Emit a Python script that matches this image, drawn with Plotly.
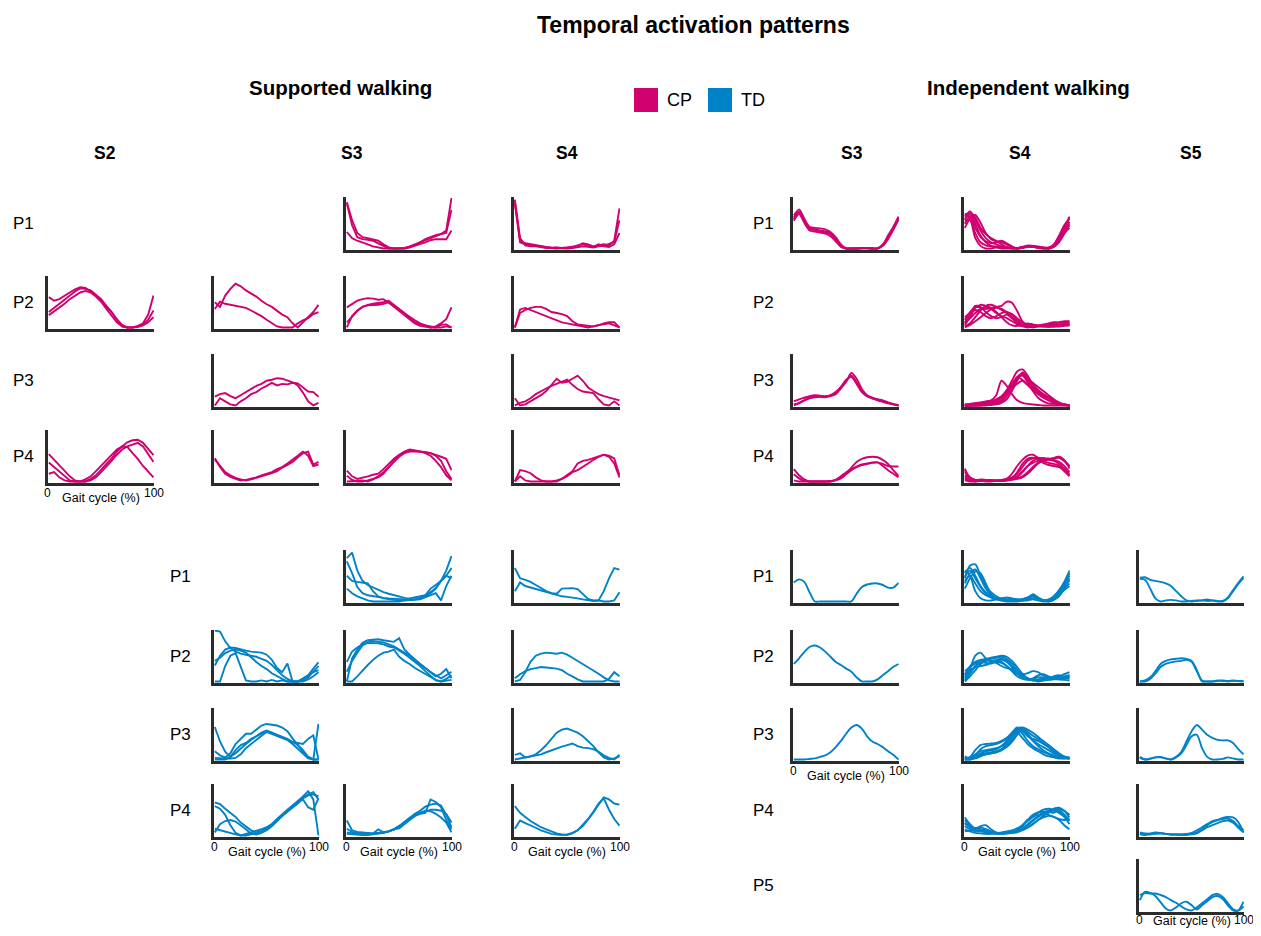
import plotly.graph_objects as go

W, H = 1261, 936          # browser window (reference pixel space)
PAGE_MARGIN = 8           # default body margin of the page
FW, FH = W - 2 * PAGE_MARGIN, H - 2 * PAGE_MARGIN
CP_COLOR = '#D0006F'
TD_COLOR = '#0082C8'
AXIS_COLOR = '#2b2b2b'
FONT = 'Liberation Sans, Arial, sans-serif'

# Gait cycle grid (%) shared by every curve
GAIT = [0, 5, 10, 15, 20, 25, 30, 35, 40, 45, 50, 55, 60, 65, 70, 75, 80, 85, 90, 95, 100]

# ---------------- CP, supported walking ----------------
CP_SUP_S2_P2 = [
    [.59, .52, .55, .62, .68, .74, .78, .77, .70, .62, .52, .42, .30, .16, .05, 0, 0, .03, .08, .25, .62],
    [.30, .38, .45, .54, .62, .70, .76, .75, .72, .64, .55, .42, .30, .15, .02, 0, 0, .02, .05, .15, .33],
    [.24, .31, .38, .46, .55, .62, .68, .71, .68, .60, .50, .36, .22, .10, .02, 0, 0, .01, .04, .10, .20],
]
CP_SUP_S2_P4 = [
    [.53, .42, .30, .20, .10, .02, 0, 0, .05, .12, .22, .34, .45, .58, .68, .76, .80, .81, .75, .62, .51],
    [.37, .28, .20, .10, .02, 0, 0, .04, .10, .20, .30, .42, .52, .62, .68, .67, .55, .44, .30, .18, .08],
    [.15, .18, .08, .02, 0, 0, 0, 0, .02, .08, .18, .28, .40, .52, .62, .68, .72, .75, .68, .52, .38],
]
CP_SUP_S3A_P2 = [
    [.49, .40, .62, .75, .85, .80, .72, .66, .60, .52, .45, .40, .33, .25, .20, .08, 0, .10, .22, .30, .44],
    [.36, .50, .46, .44, .42, .41, .38, .33, .28, .22, .15, .08, .02, 0, 0, 0, .08, .14, .18, .26, .30],
]
CP_SUP_S3A_P3 = [
    [.17, .22, .24, .18, .14, .20, .26, .32, .38, .42, .48, .50, .53, .52, .49, .45, .39, .25, .08, 0, .05],
    [0, .14, .08, .02, 0, .08, .14, .22, .26, .33, .38, .44, .39, .42, .41, .44, .43, .35, .27, .26, .17],
]
CP_SUP_S3A_P4 = [
    [.43, .30, .18, .12, .07, .04, .02, .04, .07, .10, .12, .16, .20, .27, .32, .38, .47, .55, .58, .33, .38],
    [.45, .28, .15, .09, .05, .02, .03, .05, .08, .12, .15, .18, .24, .28, .35, .42, .50, .58, .50, .30, .33],
]
CP_SUP_S3_P1 = [
    [.90, .55, .30, .22, .20, .18, .15, .08, .02, 0, 0, 0, .02, .06, .12, .18, .22, .26, .28, .35, .98],
    [.88, .45, .22, .18, .17, .15, .10, .05, 0, 0, 0, .01, .04, .08, .12, .16, .20, .25, .28, .30, .75],
    [.32, .20, .15, .12, .08, .04, .02, 0, 0, 0, 0, 0, .02, .05, .08, .12, .16, .18, .18, .18, .35],
]
CP_SUP_S3_P2 = [
    [.39, .46, .52, .55, .57, .56, .54, .55, .48, .42, .34, .28, .20, .14, .08, .04, 0, .02, .08, .16, .39],
    [0, .22, .33, .40, .43, .43, .44, .46, .49, .40, .32, .24, .16, .08, .03, .01, 0, 0, .05, .06, 0],
    [.10, .22, .32, .40, .44, .46, .47, .49, .52, .44, .36, .28, .18, .10, .06, .04, .02, 0, 0, .02, 0],
]
CP_SUP_S3_P4 = [
    [.21, .10, .05, .07, .10, .13, .15, .24, .35, .44, .52, .58, .62, .60, .58, .57, .55, .50, .40, .20, .05],
    [.11, .03, 0, 0, .02, .05, .08, .15, .28, .40, .50, .57, .61, .60, .58, .55, .50, .40, .28, .12, .02],
    [0, 0, .01, .02, 0, .04, .10, .18, .28, .38, .48, .55, .58, .58, .58, .57, .55, .52, .48, .44, .22],
]
CP_SUP_S4_P1 = [
    [.88, .12, .08, .06, .05, .04, .02, .01, .02, .01, .02, .03, .05, .10, .08, .04, .06, .08, .06, .15, .78],
    [.90, .15, .10, .08, .06, .05, .03, .02, .01, 0, 0, .01, .02, .04, .03, .02, .04, .05, .09, .12, .55],
    [.95, .20, .06, .04, .04, .02, .01, .01, 0, .01, .02, .02, .06, .08, .05, .03, .08, .04, .03, .08, .30],
]
CP_SUP_S4_P2 = [
    [0, .35, .38, .34, .30, .26, .22, .18, .14, .10, .08, .06, .04, .02, 0, .02, .05, .06, .08, .04, 0],
    [0, .28, .34, .38, .40, .40, .36, .30, .28, .26, .22, .12, .06, .05, .04, .02, .04, .08, .10, .10, 0],
]
CP_SUP_S4_P3 = [
    [.14, 0, .02, .08, .13, .20, .28, .40, .52, .44, .46, .52, .58, .48, .35, .28, .22, .18, .15, .12, .10],
    [0, .05, .08, .14, .22, .28, .33, .38, .42, .46, .50, .40, .32, .27, .25, .24, .12, .02, 0, .08, 0],
]
CP_SUP_S4_P4 = [
    [0, .22, .20, .16, .08, .02, 0, 0, 0, .05, .12, .20, .35, .40, .42, .45, .48, .52, .50, .45, .12],
    [0, .10, .02, 0, 0, 0, 0, 0, .02, .05, .10, .18, .22, .28, .35, .42, .48, .52, .48, .35, .08],
]

# ---------------- CP, independent walking ----------------
CP_IND_S3_P1 = [
    [.64, .76, .58, .42, .40, .39, .37, .32, .22, .08, 0, 0, 0, .01, .01, 0, 0, .08, .22, .40, .60],
    [.57, .70, .52, .38, .36, .34, .32, .28, .18, .05, 0, 0, 0, .01, .01, 0, 0, .06, .20, .38, .58],
    [.54, .67, .50, .35, .33, .31, .29, .24, .14, .03, 0, 0, 0, .01, .01, 0, 0, .05, .18, .36, .56],
    [.60, .72, .55, .40, .37, .35, .33, .30, .20, .06, 0, 0, 0, 0, 0, 0, 0, .07, .25, .42, .62],
]
CP_IND_S3_P3 = [
    [.02, .05, .10, .14, .16, .17, .16, .18, .22, .33, .46, .63, .52, .32, .20, .15, .12, .10, .06, .03, .01],
    [.08, .12, .15, .18, .20, .19, .18, .20, .26, .36, .50, .55, .42, .26, .18, .14, .10, .07, .04, .02, 0],
    [0, .04, .10, .15, .18, .18, .17, .19, .24, .35, .48, .58, .45, .28, .18, .14, .11, .08, .05, .02, 0],
]
CP_IND_S3_P4 = [
    [.24, .12, .04, 0, 0, 0, 0, 0, .02, .06, .15, .27, .38, .44, .47, .48, .47, .42, .34, .22, .11],
    [.14, .06, .01, 0, 0, 0, 0, 0, .03, .08, .14, .22, .28, .32, .34, .36, .37, .34, .30, .29, .29],
    [.02, 0, 0, 0, 0, 0, 0, .01, .03, .10, .18, .24, .29, .33, .35, .37, .37, .30, .22, .15, .08],
]
CP_IND_S4_P1 = [
    [.62, .72, .55, .35, .20, .12, .08, .04, .02, .01, 0, .03, .05, .03, .02, 0, 0, .05, .20, .40, .60],
    [.55, .70, .60, .40, .28, .20, .15, .08, .03, 0, 0, .02, .04, .04, .02, .01, .02, .08, .25, .45, .58],
    [.48, .62, .40, .22, .14, .10, .12, .15, .10, .04, 0, .02, .06, .05, .03, .01, 0, .04, .15, .32, .52],
    [.68, .60, .30, .12, .06, .04, .04, .03, .02, .02, .01, .03, .04, .03, .02, .02, .01, .06, .18, .35, .48],
    [.40, .58, .65, .50, .30, .18, .14, .12, .08, .03, 0, .01, .04, .05, .04, .02, 0, .03, .12, .28, .45],
    [.58, .66, .48, .25, .12, .05, .02, 0, 0, 0, 0, .01, .03, .03, .01, 0, 0, .05, .22, .40, .62],
    [.52, .55, .20, .05, 0, 0, .02, .03, .02, .01, .01, .02, .04, .04, .02, .01, .01, .04, .16, .30, .40],
]
CP_IND_S4_P2 = [
    [.05, .20, .38, .44, .42, .38, .30, .20, .10, .04, .03, .05, .08, .06, .04, .06, .08, .10, .10, .12, .12],
    [.10, .25, .42, .40, .30, .22, .18, .20, .25, .18, .08, .04, .06, .05, .03, .03, .05, .08, .09, .10, .11],
    [.02, .08, .20, .33, .42, .44, .40, .34, .28, .20, .10, .04, .02, .04, .03, .02, .02, .04, .05, .06, .08],
    [.15, .30, .40, .38, .36, .38, .40, .42, .50, .48, .32, .12, .03, .02, .03, .04, .04, .05, .06, .07, .08],
    [.08, .18, .28, .36, .40, .36, .28, .22, .18, .12, .06, .02, 0, .02, .04, .03, .02, .02, .02, .03, .04],
    [0, .05, .12, .20, .28, .35, .38, .36, .30, .24, .14, .06, .02, 0, .02, .03, .02, .03, .04, .05, .05],
    [.20, .28, .34, .30, .22, .18, .22, .28, .30, .26, .18, .10, .06, .04, .02, .02, .02, .02, .03, .04, .04],
]
CP_IND_S4_P3 = [
    [0, 0, .02, .04, .07, .10, .20, .48, .38, .22, .10, .05, .03, .02, .01, 0, 0, 0, 0, 0, 0],
    [0, .01, .02, .03, .05, .08, .12, .18, .30, .48, .66, .70, .58, .40, .28, .18, .10, .05, .02, .01, 0],
    [0, 0, .01, .02, .04, .06, .10, .16, .28, .42, .55, .62, .50, .35, .25, .18, .14, .08, .04, .02, 0],
    [.02, .03, .05, .06, .08, .09, .10, .14, .22, .38, .55, .60, .52, .44, .36, .28, .20, .12, .06, .02, 0],
    [0, 0, 0, .01, .02, .04, .08, .14, .25, .40, .54, .50, .40, .30, .22, .15, .10, .06, .04, .02, .01],
    [0, 0, 0, 0, .01, .02, .04, .08, .18, .35, .52, .58, .45, .28, .15, .08, .04, .03, .02, .01, 0],
    [.02, .02, .03, .04, .05, .05, .06, .10, .20, .32, .42, .48, .40, .32, .26, .20, .15, .08, .04, .02, 0],
    [0, 0, 0, 0, 0, .01, .02, .05, .12, .28, .48, .64, .55, .40, .30, .22, .16, .10, .05, .02, 0],
]
CP_IND_S4_P4 = [
    [.25, .05, .02, .01, .02, .02, .01, .02, .05, .15, .30, .42, .50, .52, .46, .40, .36, .34, .30, .20, .10],
    [.12, .04, 0, .01, .02, .01, .02, .03, .05, .08, .15, .28, .40, .45, .46, .45, .44, .45, .46, .40, .30],
    [.05, .02, .02, .04, .03, .02, .01, .01, .02, .04, .08, .18, .30, .40, .44, .45, .44, .44, .48, .42, .25],
    [.18, .06, .02, .01, 0, 0, .01, .02, .03, .05, .10, .20, .30, .36, .40, .42, .44, .42, .38, .30, .18],
    [.08, .03, .01, .02, .03, .02, .01, .01, .02, .03, .05, .08, .15, .25, .35, .40, .42, .40, .34, .25, .15],
    [.22, .08, .03, .02, .02, .03, .02, .01, .02, .06, .18, .34, .44, .46, .42, .36, .32, .30, .28, .22, .12],
    [.02, 0, 0, .01, .02, .02, .02, .02, .03, .04, .06, .10, .18, .28, .36, .40, .42, .46, .48, .40, .30],
]

# ---------------- TD, supported walking ----------------
TD_SUP_S3A_P2 = [
    [.99, .97, .78, .65, .58, .54, .52, .50, .48, .44, .40, .32, .22, .12, .05, 0, 0, .06, .12, .25, .37],
    [.31, .50, .62, .66, .65, .62, .60, .58, .57, .56, .52, .42, .26, .18, .35, 0, 0, .02, .08, .18, .30],
    [.40, .46, .55, .60, .62, .60, .56, .46, .38, .30, .24, .16, .10, .05, 0, 0, 0, .05, .12, .18, .22],
    [0, 0, .30, .50, .55, .28, .02, 0, 0, .02, 0, .03, 0, .02, 0, 0, 0, 0, .04, .10, .18],
]
TD_SUP_S3A_P3 = [
    [.63, .35, .15, .05, .12, .22, .30, .38, .45, .52, .56, .52, .48, .45, .40, .34, .28, .18, .05, 0, .69],
    [.16, .08, .04, .12, .30, .41, .50, .50, .58, .66, .69, .68, .66, .62, .55, .41, .28, .15, .05, 0, 0],
    [0, 0, 0, .05, .18, .28, .32, .40, .45, .50, .53, .50, .46, .42, .38, .34, .32, .30, .40, .47, 0],
    [.03, .02, .02, .02, .03, .10, .22, .30, .38, .46, .54, .52, .46, .42, .38, .30, .20, .10, .02, 0, 0],
]
TD_SUP_S3A_P4 = [
    [.64, .61, .52, .44, .36, .25, .18, .10, .06, .08, .14, .22, .32, .42, .50, .58, .66, .76, .86, .70, 0],
    [.06, .22, .28, .30, .27, .20, .12, .03, .02, .05, .10, .18, .28, .38, .50, .58, .67, .74, .80, .84, .70],
    [.57, .52, .40, .20, .05, 0, 0, .02, .05, .08, .12, .20, .30, .38, .48, .56, .64, .70, .55, .50, .72],
    [.13, .10, .08, .05, .02, 0, .03, .06, .08, .12, .16, .22, .30, .38, .46, .54, .62, .72, .78, .80, .76],
]
TD_SUP_S3_P1 = [
    [.84, .95, .60, .40, .32, .27, .22, .18, .15, .12, .10, .07, .05, .04, .07, .10, .16, .25, .40, .60, .88],
    [.78, .55, .28, .16, .12, .10, .08, .07, .06, .05, .04, .04, .06, .08, .10, .12, .18, .26, .40, .50, .65],
    [.50, .40, .38, .37, .35, .20, .10, .06, .04, .03, .02, .02, .03, .04, .06, .12, .25, .32, .40, .50, .45],
    [.25, .16, .10, .06, .02, 0, 0, 0, 0, .01, 0, .02, .02, .03, .04, .08, .12, .16, .02, .30, .50],
]
TD_SUP_S3_P2 = [
    [0, .45, .62, .75, .80, .81, .82, .80, .78, .77, .84, .62, .52, .42, .34, .26, .18, .10, .15, .24, .06],
    [.19, .40, .56, .70, .76, .78, .77, .76, .72, .68, .62, .56, .50, .42, .34, .25, .18, .12, .06, .12, .19],
    [0, 0, .10, .22, .32, .42, .50, .56, .58, .62, .48, .40, .34, .26, .20, .14, .08, .03, 0, .02, .03],
    [.38, .58, .66, .72, .75, .75, .74, .72, .68, .66, .60, .54, .46, .38, .30, .20, .10, .02, 0, .05, .12],
]
TD_SUP_S3_P4 = [
    [.29, .10, .07, .06, .05, .04, .12, .06, .08, .12, .14, .22, .30, .38, .42, .44, .70, .65, .55, .30, .12],
    [.13, .07, .05, .04, .04, .04, .05, .06, .08, .12, .18, .26, .34, .42, .48, .56, .60, .62, .58, .40, .16],
    [.06, .04, .03, .03, .02, .03, .04, .05, .08, .12, .18, .26, .34, .40, .44, .46, .50, .50, .48, .42, .25],
    [.03, .02, .02, .01, .01, .02, .03, .05, .08, .12, .18, .24, .32, .38, .44, .48, .47, .42, .35, .25, .06],
]
TD_SUP_S4_P1 = [
    [.65, .45, .42, .38, .32, .26, .20, .16, .15, .25, .26, .26, .24, .15, .05, .02, .02, .20, .45, .65, .62],
    [.20, .37, .30, .27, .25, .22, .18, .15, .12, .10, .09, .08, .06, .04, .02, .01, .02, 0, 0, .02, .18],
]
TD_SUP_S4_P2 = [
    [0, .03, .18, .38, .50, .54, .56, .55, .54, .56, .52, .46, .40, .34, .28, .22, .15, .08, .02, 0, 0],
    [.06, .14, .20, .24, .26, .28, .27, .26, .25, .22, .15, .10, .04, 0, 0, 0, 0, 0, .05, .18, .10],
]
TD_SUP_S4_P3 = [
    [.09, .12, .04, .06, .10, .18, .28, .40, .52, .58, .60, .56, .52, .45, .36, .26, .14, .04, 0, .02, .06],
    [0, .02, .04, .06, .08, .10, .14, .18, .21, .25, .28, .31, .26, .23, .22, .20, .15, .08, .03, 0, .09],
]
TD_SUP_S4_P4 = [
    [.57, .44, .36, .28, .22, .16, .12, .08, .04, .02, .01, .04, .10, .18, .30, .44, .60, .74, .70, .62, .60],
    [.13, .29, .24, .20, .15, .10, .06, .03, .02, .01, .02, .05, .10, .20, .32, .46, .62, .72, .50, .32, .19],
]

# ---------------- TD, independent walking ----------------
TD_IND_S3_P1 = [
    [.37, .43, .38, .18, 0, 0, 0, 0, 0, 0, 0, 0, .15, .28, .33, .35, .35, .32, .27, .27, .36],
]
TD_IND_S3_P2 = [
    [.34, .45, .57, .67, .70, .66, .58, .48, .38, .32, .25, .19, .08, 0, 0, 0, .04, .12, .20, .28, .34],
]
TD_IND_S3_P3 = [
    [0, 0, 0, .01, .02, .05, .08, .14, .24, .36, .50, .62, .67, .60, .45, .35, .30, .24, .16, .09, 0],
]
TD_IND_S4_P1 = [
    [.45, .70, .72, .50, .30, .18, .10, .05, .04, .05, .03, .02, .06, .14, .08, .02, .01, .05, .15, .30, .55],
    [.55, .65, .50, .30, .18, .10, .06, .06, .08, .06, .04, .03, .05, .10, .06, .03, .02, .06, .18, .35, .50],
    [.60, .50, .20, .06, .02, .02, .04, .06, .04, .02, .02, .04, .08, .12, .06, .02, 0, .03, .10, .25, .45],
    [.35, .55, .62, .45, .25, .12, .06, .03, .02, .02, .02, .02, .04, .06, .04, .02, .02, .08, .20, .32, .40],
    [.48, .60, .45, .28, .15, .08, .04, .02, 0, 0, 0, .02, .04, .06, .04, .02, .04, .10, .22, .38, .60],
    [.25, .45, .58, .55, .35, .15, .05, .02, .03, .05, .04, .02, .02, .04, .02, 0, 0, .04, .12, .25, .35],
    [.40, .50, .35, .20, .12, .08, .05, .03, .02, .02, .03, .05, .07, .10, .05, .01, .01, .04, .12, .22, .30],
]
TD_IND_S4_P2 = [
    [.08, .25, .50, .56, .45, .40, .38, .36, .30, .20, .10, .05, .03, .05, .08, .08, .06, .06, .08, .10, .12],
    [.12, .30, .38, .42, .44, .46, .48, .50, .48, .40, .28, .15, .06, .02, .04, .05, .06, .08, .10, .14, .18],
    [.02, .15, .30, .40, .42, .40, .42, .44, .40, .30, .20, .14, .16, .20, .18, .12, .08, .05, .04, .06, .08],
    [.20, .28, .35, .38, .36, .35, .38, .42, .38, .28, .16, .08, .04, .03, .02, .04, .06, .10, .12, .08, .05],
    [0, .10, .22, .34, .40, .40, .36, .30, .26, .24, .20, .12, .06, .02, 0, .02, .04, .05, .06, .08, .10],
    [.05, .18, .30, .36, .40, .44, .46, .48, .44, .35, .22, .10, .04, .06, .12, .14, .10, .06, .04, .03, .02],
    [.15, .22, .28, .30, .32, .36, .40, .38, .30, .22, .15, .10, .06, .04, .02, .02, .03, .04, .06, .08, .12],
]
TD_IND_S4_P3 = [
    [0, .05, .18, .28, .30, .31, .32, .36, .42, .52, .62, .55, .45, .40, .36, .30, .24, .16, .10, .05, .02],
    [.06, .02, .08, .20, .26, .28, .30, .34, .40, .50, .60, .62, .58, .52, .44, .36, .28, .20, .12, .06, .02],
    [0, 0, .06, .12, .16, .18, .20, .26, .36, .48, .60, .50, .36, .26, .20, .14, .10, .06, .04, .02, .01],
    [.02, .04, .10, .16, .18, .20, .22, .26, .32, .44, .56, .58, .48, .36, .26, .18, .12, .08, .05, .03, .04],
    [0, .02, .06, .10, .12, .14, .16, .20, .30, .42, .54, .60, .54, .46, .40, .32, .24, .16, .08, .04, .02],
    [.04, .02, .04, .08, .10, .12, .14, .18, .26, .38, .52, .42, .30, .22, .16, .10, .06, .04, .02, .02, .03],
    [0, 0, .02, .06, .10, .12, .14, .18, .24, .34, .48, .58, .50, .38, .30, .24, .18, .12, .08, .05, .04],
]
TD_IND_S4_P4 = [
    [.35, .22, .12, .18, .20, .12, .06, .04, .04, .06, .10, .18, .30, .40, .45, .46, .46, .44, .50, .40, .28],
    [.25, .15, .10, .08, .06, .04, .03, .03, .04, .05, .08, .14, .22, .30, .38, .45, .48, .50, .52, .48, .35],
    [.18, .12, .08, .10, .12, .08, .05, .04, .05, .08, .12, .20, .30, .36, .40, .42, .40, .36, .30, .20, .12],
    [.30, .20, .14, .10, .08, .06, .05, .05, .06, .08, .10, .14, .20, .28, .36, .42, .46, .48, .44, .36, .22],
    [.12, .08, .05, .04, .03, .03, .04, .06, .08, .10, .14, .20, .28, .36, .44, .50, .52, .50, .46, .40, .30],
    [.22, .18, .14, .12, .08, .05, .04, .04, .05, .06, .08, .12, .16, .22, .30, .38, .44, .52, .54, .48, .40],
    [.08, .10, .14, .16, .12, .08, .05, .04, .04, .05, .06, .10, .15, .22, .30, .35, .38, .36, .32, .30, .32],
]
TD_IND_S5_P1 = [
    [.46, .47, .42, .40, .38, .35, .30, .20, .10, .02, 0, .01, .02, .04, .02, 0, .01, .08, .22, .36, .49],
    [.44, .42, .25, .06, 0, .02, .03, .02, 0, 0, .01, .02, .02, .01, .02, .01, 0, .06, .20, .34, .46],
]
TD_IND_S5_P2 = [
    [0, .02, .08, .20, .34, .40, .43, .44, .45, .44, .40, .22, 0, 0, 0, .02, .02, .01, .02, .01, .01],
    [0, 0, .05, .15, .28, .34, .37, .39, .40, .42, .38, .20, .02, 0, 0, .01, .01, 0, .01, .01, 0],
]
TD_IND_S5_P3 = [
    [.03, 0, .02, .04, .04, .02, 0, .05, .15, .35, .55, .67, .58, .48, .42, .38, .37, .37, .32, .20, .10],
    [.05, 0, .01, .04, .05, .02, 0, .04, .12, .28, .45, .48, .22, .05, 0, 0, .01, .04, .02, 0, 0],
]
TD_IND_S5_P4 = [
    [.06, .04, .03, .05, .04, .03, .02, .02, .02, .02, .03, .06, .12, .20, .26, .30, .34, .36, .35, .26, .06],
    [.03, .02, .04, .06, .05, .03, .02, .02, .02, .03, .05, .10, .16, .22, .28, .30, .32, .33, .28, .18, .10],
    [.02, .01, .02, .03, .04, .03, .02, .02, .01, .01, .02, .04, .10, .16, .20, .24, .28, .29, .25, .15, .06],
]
TD_IND_S5_P5 = [
    [.20, .36, .34, .28, .16, .04, 0, .06, .14, .17, .10, .02, .10, .18, .26, .28, .22, .10, 0, 0, .17],
    [.30, .34, .33, .33, .30, .26, .20, .15, .08, .02, 0, .06, .14, .22, .30, .32, .26, .14, .02, 0, .08],
]

# ---------------- Text ----------------
TITLE = 'Temporal activation patterns'
SECTION_TITLES = ['Supported walking', 'Independent walking']
COLUMN_HEADERS = ['S2', 'S3', 'S4', 'S3', 'S4', 'S5']
ROW_LABELS_CP = ['P1', 'P2', 'P3', 'P4']
ROW_LABELS_TD = ['P1', 'P2', 'P3', 'P4', 'P5']
GROUPS = ['CP', 'TD']
AXIS_TITLE = 'Gait cycle (%)'

# ---------------- Layout geometry (window pixels) ----------------
COLS = {'A': (48, 154), 'B': (214, 319), 'C': (346, 452), 'D': (514, 620),
        'E': (793, 899), 'F': (964, 1070), 'G': (1139, 1244)}
PH = 53
ROW_TOP_CP = {'P1': 197, 'P2': 276, 'P3': 354, 'P4': 430}
ROW_TOP_TD = {'P1': 550, 'P2': 630, 'P3': 708, 'P4': 784, 'P5': 859}

# (group, column, row, data, smooth, show gait axis label)
PANELS = [
    ('CP', 'A', 'P2', CP_SUP_S2_P2, False, False),
    ('CP', 'A', 'P4', CP_SUP_S2_P4, False, True),
    ('CP', 'B', 'P2', CP_SUP_S3A_P2, False, False),
    ('CP', 'B', 'P3', CP_SUP_S3A_P3, False, False),
    ('CP', 'B', 'P4', CP_SUP_S3A_P4, False, False),
    ('CP', 'C', 'P1', CP_SUP_S3_P1, False, False),
    ('CP', 'C', 'P2', CP_SUP_S3_P2, False, False),
    ('CP', 'C', 'P4', CP_SUP_S3_P4, False, False),
    ('CP', 'D', 'P1', CP_SUP_S4_P1, False, False),
    ('CP', 'D', 'P2', CP_SUP_S4_P2, False, False),
    ('CP', 'D', 'P3', CP_SUP_S4_P3, False, False),
    ('CP', 'D', 'P4', CP_SUP_S4_P4, False, False),
    ('CP', 'E', 'P1', CP_IND_S3_P1, True, False),
    ('CP', 'E', 'P3', CP_IND_S3_P3, True, False),
    ('CP', 'E', 'P4', CP_IND_S3_P4, True, False),
    ('CP', 'F', 'P1', CP_IND_S4_P1, True, False),
    ('CP', 'F', 'P2', CP_IND_S4_P2, True, False),
    ('CP', 'F', 'P3', CP_IND_S4_P3, True, False),
    ('CP', 'F', 'P4', CP_IND_S4_P4, True, False),
    ('TD', 'B', 'P2', TD_SUP_S3A_P2, False, False),
    ('TD', 'B', 'P3', TD_SUP_S3A_P3, False, False),
    ('TD', 'B', 'P4', TD_SUP_S3A_P4, False, True),
    ('TD', 'C', 'P1', TD_SUP_S3_P1, False, False),
    ('TD', 'C', 'P2', TD_SUP_S3_P2, False, False),
    ('TD', 'C', 'P4', TD_SUP_S3_P4, False, True),
    ('TD', 'D', 'P1', TD_SUP_S4_P1, False, False),
    ('TD', 'D', 'P2', TD_SUP_S4_P2, False, False),
    ('TD', 'D', 'P3', TD_SUP_S4_P3, False, False),
    ('TD', 'D', 'P4', TD_SUP_S4_P4, False, True),
    ('TD', 'E', 'P1', TD_IND_S3_P1, True, False),
    ('TD', 'E', 'P2', TD_IND_S3_P2, True, False),
    ('TD', 'E', 'P3', TD_IND_S3_P3, True, True),
    ('TD', 'F', 'P1', TD_IND_S4_P1, True, False),
    ('TD', 'F', 'P2', TD_IND_S4_P2, True, False),
    ('TD', 'F', 'P3', TD_IND_S4_P3, True, False),
    ('TD', 'F', 'P4', TD_IND_S4_P4, True, True),
    ('TD', 'G', 'P1', TD_IND_S5_P1, True, False),
    ('TD', 'G', 'P2', TD_IND_S5_P2, True, False),
    ('TD', 'G', 'P3', TD_IND_S5_P3, True, False),
    ('TD', 'G', 'P4', TD_IND_S5_P4, True, False),
    ('TD', 'G', 'P5', TD_IND_S5_P5, True, True),
]


def px(xp):
    return (xp - PAGE_MARGIN) / FW


def py(yp):
    return 1 - (yp - PAGE_MARGIN) / FH


fig = go.Figure()
annotations = []


def ann(text, x, y, size, bold=False, xanchor='center', yanchor='middle'):
    annotations.append(dict(
        text=('<b>%s</b>' % text) if bold else text, x=px(x), y=py(y),
        xref='paper', yref='paper', showarrow=False, xanchor=xanchor, yanchor=yanchor,
        font=dict(family=FONT, size=size, color='#000000')))


layout_axes = {}
for k, (grp, col, row, curves, smooth, gait_label) in enumerate(PANELS, start=1):
    x0, x1 = COLS[col]
    top = (ROW_TOP_CP if grp == 'CP' else ROW_TOP_TD)[row]
    bot = top + PH
    xname = 'x' if k == 1 else 'x%d' % k
    yname = 'y' if k == 1 else 'y%d' % k
    xkey = 'xaxis' if k == 1 else 'xaxis%d' % k
    ykey = 'yaxis' if k == 1 else 'yaxis%d' % k
    color = CP_COLOR if grp == 'CP' else TD_COLOR
    for ys in curves:
        fig.add_trace(go.Scatter(
            x=GAIT, y=ys, mode='lines', xaxis=xname, yaxis=yname,
            line=dict(color=color, width=1.9, shape='spline' if smooth else 'linear',
                      smoothing=0.8),
            showlegend=False, hoverinfo='skip'))
    common = dict(showgrid=False, zeroline=False, showticklabels=False, ticks='',
                  showline=True, linecolor=AXIS_COLOR, linewidth=2.6, fixedrange=True)
    layout_axes[xkey] = dict(domain=[px(x0), px(x1)], range=[-0.8, 100.5], anchor=yname, **common)
    layout_axes[ykey] = dict(domain=[py(bot), py(top)], range=[-0.03, 1.0], anchor=xname, **common)
    if gait_label:
        ty = min(bot + 10, 920)
        gy = min(bot + 15, 921)
        ann('0', x0, ty, 12)
        ann('100', x1, ty, 12)
        ann(AXIS_TITLE, (x0 + x1) / 2, gy, 12.5)

# Titles
ann(TITLE, 694, 25, 23, bold=True)
ann(SECTION_TITLES[0], 340, 87, 20.5, bold=True)
ann(SECTION_TITLES[1], 1028, 87, 20.5, bold=True)
for text, xc in zip(COLUMN_HEADERS, [105, 352, 567, 852, 1020, 1191]):
    ann(text, xc, 153, 17.5, bold=True)

# Row labels
for r in ROW_LABELS_CP:
    yc = ROW_TOP_CP[r] + PH / 2
    ann(r, 11, yc, 17, xanchor='left')
    ann(r, 751, yc, 17, xanchor='left')
for r in ROW_LABELS_TD:
    yc = ROW_TOP_TD[r] + PH / 2
    if r != 'P5':
        ann(r, 168, yc, 17, xanchor='left')
    ann(r, 751, yc, 17, xanchor='left')

# Legend (coloured squares + labels)
shapes = []
for name, color, sx in zip(GROUPS, [CP_COLOR, TD_COLOR], [634, 708]):
    shapes.append(dict(type='rect', xref='paper', yref='paper',
                       x0=px(sx), x1=px(sx + 24), y0=py(112), y1=py(88),
                       fillcolor=color, line=dict(width=0)))
    ann(name, sx + 31, 100, 18, xanchor='left')

fig.update_layout(
    width=FW, height=FH, margin=dict(l=0, r=0, t=0, b=0),
    paper_bgcolor='white', plot_bgcolor='white',
    annotations=annotations, shapes=shapes, showlegend=False,
    **layout_axes)

fig.write_html('out.html')
